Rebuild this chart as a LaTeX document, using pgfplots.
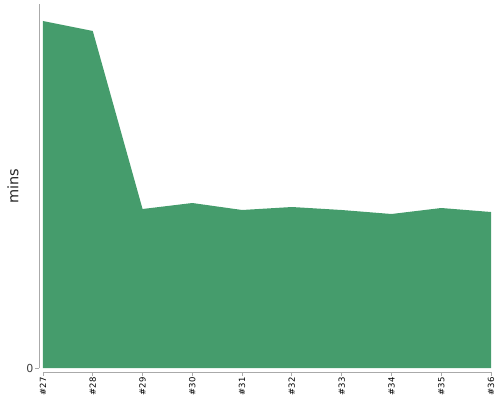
\documentclass[border=0pt]{standalone}
\usepackage{fontspec}
\setmainfont{DejaVu Sans}
\usepackage{pgfplots}
\pgfplotsset{compat=1.18}
\usetikzlibrary{calc}
\definecolor{areagreen}{RGB}{69,156,108}
\definecolor{axgray}{RGB}{170,170,170}
\begin{document}
\begin{tikzpicture}[x=1pt,y=1pt]
\begin{axis}[
  scale only axis,
  width=448pt, height=364pt,
  xmin=0, xmax=9, ymin=0, ymax=364,
  axis lines=left,
  axis line style={-, draw=axgray, line width=0.8pt},
  axis x line shift=4pt,
  axis y line shift=3.5pt,
  xtick={0,...,9},
  xticklabels={\#27,\#28,\#29,\#30,\#31,\#32,\#33,\#34,\#35,\#36},
  x tick label style={rotate=90, anchor=east, font=\fontsize{8.5}{9}\selectfont, text=black, inner sep=1pt},
  ytick={0},
  y tick label style={font=\fontsize{11}{12}\selectfont, text=black!75, inner sep=2pt},
  tick style={draw=axgray, line width=0.8pt},
  tick align=outside,
  major tick length=4pt,
  ylabel={mins},
  every axis y label/.style={at={(rel axis cs:0,0.5)}, xshift=-30pt, rotate=90, anchor=center, font=\fontsize{14.5}{16}\selectfont, text=black!85},
  /pgf/number format/assume math mode=true,
  clip=false,
]
\addplot[draw=none, fill=areagreen] coordinates {
  (0,347) (1,337) (2,159) (3,165) (4,158) (5,161) (6,158) (7,154) (8,160) (9,156)
} \closedcycle;
\end{axis}
\pgfresetboundingbox
\path[use as bounding box] ($(current axis.south west)+(-43pt,-32pt)$) rectangle ++(500pt,400pt);
\end{tikzpicture}
\end{document}
